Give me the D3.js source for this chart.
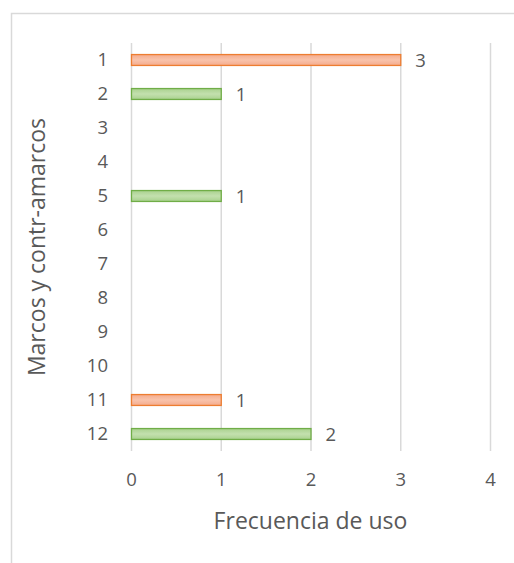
<!DOCTYPE html>
<html>
<head>
<meta charset="utf-8">
<script src="https://cdn.jsdelivr.net/npm/d3@7"></script>
<style>
  html, body { margin: 0; padding: 0; background: #fff; }
  svg { display: block; }
  text { font-family: "Open Sans", sans-serif; fill: #595959; }
</style>
</head>
<body>
<div id="chart"></div>
<script>
// Categories (marcos y contra-marcos), usage counts and bar family
const categories = ["1","2","3","4","5","6","7","8","9","10","11","12"];
const values     = [3, 1, null, null, 1, null, null, null, null, null, 1, 2];
const groups     = ["marco","contramarco",null,null,"contramarco",null,null,null,null,null,"marco","contramarco"];
const xTicks     = [0, 1, 2, 3, 4];

const palette = {
  marco:       { stroke: "#ed7d31", top: "#f9c3ab", bottom: "#f4ab8d" },
  contramarco: { stroke: "#70ad47", top: "#c3e0ae", bottom: "#a9d18e" }
};

const FONT = "'Open Sans', sans-serif";
const TICK_SIZE = 18.5;
const W = 514, H = 563;
const svg = d3.select("#chart").append("svg").attr("width", W).attr("height", H);

// chart area frame
svg.append("rect")
  .attr("x", 11.5).attr("y", 13.5)
  .attr("width", W + 10).attr("height", H + 10)
  .attr("fill", "#fff").attr("stroke", "#d9d9d9").attr("stroke-width", 1.5);

const plot = { left: 131, right: 490, top: 43, bottom: 451 };

const x = d3.scaleLinear().domain([0, 4]).range([plot.left, plot.right]);
const y = d3.scaleBand().domain(categories).range([plot.top, plot.bottom]).paddingInner(0.65).paddingOuter(0.325);

const defs = svg.append("defs");
Object.entries(palette).forEach(([k, c]) => {
  const g = defs.append("linearGradient").attr("id", "grad-" + k)
    .attr("x1", 0).attr("y1", 0).attr("x2", 0).attr("y2", 1);
  g.append("stop").attr("offset", "0%").attr("stop-color", c.bottom);
  g.append("stop").attr("offset", "50%").attr("stop-color", c.top);
  g.append("stop").attr("offset", "100%").attr("stop-color", c.bottom);
});

// vertical gridlines
svg.append("g")
  .selectAll("line").data(xTicks).join("line")
  .attr("x1", d => x(d) + 0.5).attr("x2", d => x(d) + 0.5)
  .attr("y1", plot.top).attr("y2", plot.bottom)
  .attr("stroke", "#d9d9d9").attr("stroke-width", 1.5);

// x axis tick labels
const xAxis = d3.axisBottom(x).tickValues(xTicks).tickSize(0).tickPadding(22).tickFormat(d3.format("d"));
const gx = svg.append("g").attr("transform", `translate(0,${plot.bottom})`).call(xAxis);
gx.select(".domain").remove();
gx.selectAll("text").attr("font-size", TICK_SIZE).style("fill", "#595959").style("font-family", FONT);

// y axis category labels
const yAxis = d3.axisLeft(y).tickSize(0).tickPadding(23);
const gy = svg.append("g").attr("transform", `translate(${plot.left},0)`).call(yAxis);
gy.select(".domain").remove();
gy.selectAll("text").attr("font-size", TICK_SIZE).style("fill", "#595959").style("font-family", FONT);

// bars
const rows = categories.map((c, i) => ({ c, v: values[i], g: groups[i] })).filter(d => d.v != null);

svg.append("g").selectAll("rect").data(rows).join("rect")
  .attr("x", x(0) + 0.5)
  .attr("y", d => y(d.c) + 0.5)
  .attr("width", d => x(d.v) - x(0))
  .attr("height", y.bandwidth() - 1)
  .attr("fill", d => `url(#grad-${d.g})`)
  .attr("stroke", d => palette[d.g].stroke)
  .attr("stroke-width", 1.3);

// value labels
svg.append("g").selectAll("text").data(rows).join("text")
  .attr("x", d => x(d.v) + 15)
  .attr("y", d => y(d.c) + y.bandwidth() / 2)
  .attr("dy", "0.36em")
  .attr("font-size", TICK_SIZE)
  .text(d => d.v);

// axis titles
svg.append("text")
  .attr("x", (plot.left + plot.right) / 2)
  .attr("y", 529)
  .attr("text-anchor", "middle")
  .attr("font-size", 23)
  .text("Frecuencia de uso");

svg.append("text")
  .attr("transform", `translate(45,${(plot.top + plot.bottom) / 2}) rotate(-90)`)
  .attr("text-anchor", "middle")
  .attr("font-size", 23)
  .text("Marcos y contr-amarcos");
</script>
</body>
</html>
